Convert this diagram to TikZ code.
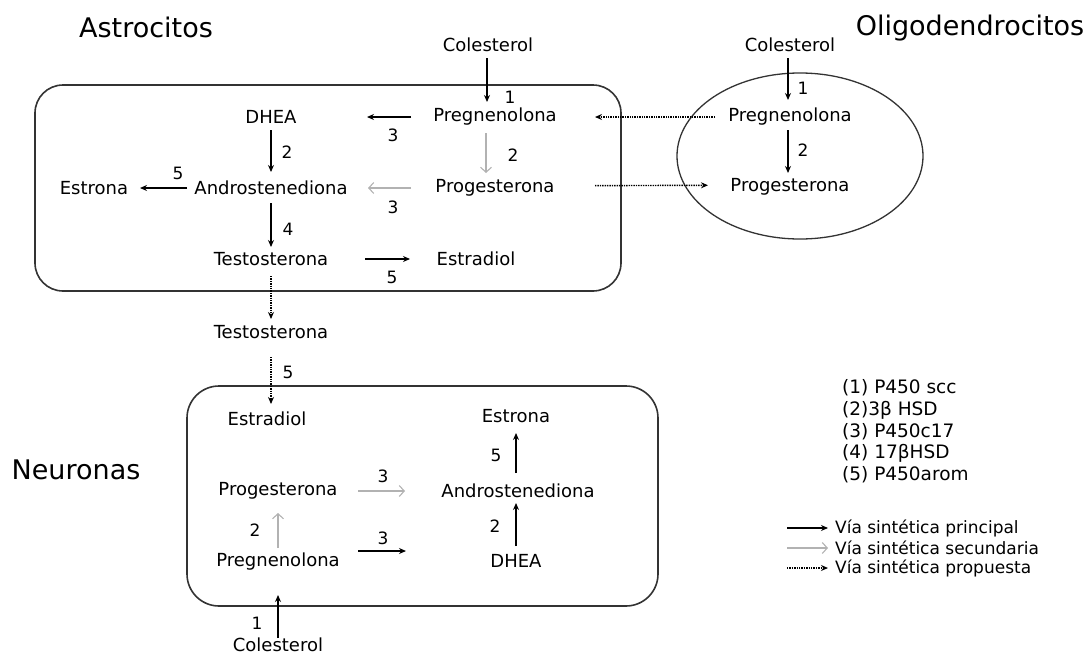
\documentclass[tikz,border=0pt]{standalone}
\usepackage{fontspec}
\setmainfont{DejaVu Sans}
\usetikzlibrary{arrows.meta}
\begin{document}
\begin{tikzpicture}[x=1pt,y=-1pt,
  txt/.style={inner sep=0pt, font=\fontsize{18}{20}\selectfont},
  num/.style={inner sep=0pt, font=\fontsize{17}{19}\selectfont},
  ttl/.style={inner sep=0pt, font=\fontsize{27}{30}\selectfont},
  leg/.style={inner sep=0pt, anchor=west, font=\fontsize{18.5}{20}\selectfont},
  via/.style={inner sep=0pt, anchor=west, font=\fontsize{17}{18}\selectfont},
  blk/.style={line width=1.6pt, -{Stealth[length=7pt,width=6pt]}},
  gry/.style={line width=1.1pt, draw=black!30, -{Straight Barb[length=5pt,width=11pt]}},
  propo/.style={line width=1.4pt, densely dotted, -{Stealth[length=7pt,width=6pt]}},
  cell/.style={line width=1.6pt, draw=black!80},
]
\useasboundingbox (0,0) rectangle (1088,656);

% containers
\draw[cell, rounded corners=28pt] (35,85) rectangle (621,291);
\draw[cell, rounded corners=32pt] (187,386) rectangle (658,606);
\draw[cell, line width=1.3pt] (800,156) ellipse [x radius=123pt, y radius=83pt];

% titles
\node[ttl] (tA) at (146,27) {Astrocitos};
\node[ttl] (tO) at (970,28) {Oligodendrocitos};
\node[ttl] (tN) at (76,470) {Neuronas};

% astrocitos
\node[txt] (colA) at (488,45) {Colesterol};
\node[txt] (pregA) at (495,117) {Pregnenolona};
\node[txt] (dheaA) at (271,117) {DHEA};
\node[txt] (progA) at (495,188) {Progesterona};
\node[txt] (andA) at (271,188) {Androstenediona};
\node[txt] (estnA) at (94,188) {Estrona};
\node[txt] (testA) at (271,259) {Testosterona};
\node[txt] (estdA) at (476,259) {Estradiol};
\node[txt] (testM) at (271,332) {Testosterona};

% oligodendrocitos
\node[txt] (colO) at (790,45) {Colesterol};
\node[txt] (pregO) at (790,117) {Pregnenolona};
\node[txt] (progO) at (790,187) {Progesterona};

% neuronas
\node[txt] (estdN) at (267,419) {Estradiol};
\node[txt] (estnN) at (516,416) {Estrona};
\node[txt] (progN) at (278,491) {Progesterona};
\node[txt] (andN) at (518,491) {Androstenediona};
\node[txt] (pregN) at (278,562) {Pregnenolona};
\node[txt] (dheaN) at (516,561) {DHEA};
\node[txt] (colN) at (278,645) {Colesterol};

% arrows astrocitos
\draw[blk, shorten <=13pt, shorten >=15pt] ([xshift=-1pt]colA.center) -- ([xshift=-8pt]pregA.center);
\draw[blk, shorten <=84pt, shorten >=96pt] (pregA.center) -- (dheaA.center);
\draw[gry, shorten <=16pt, shorten >=15pt] ([xshift=-9pt]pregA.center) -- ([xshift=-9pt]progA.center);
\draw[blk, shorten <=13pt, shorten >=16pt] (dheaA.center) -- (andA.center);
\draw[gry, shorten <=84pt, shorten >=97pt] (progA.center) -- (andA.center);
\draw[blk, shorten <=84pt, shorten >=46pt] (andA.center) -- (estnA.center);
\draw[blk, shorten <=15pt, shorten >=12pt] (andA.center) -- (testA.center);
\draw[blk, shorten <=94pt, shorten >=66pt] (testA.center) -- (estdA.center);
\draw[propo, shorten <=17pt, shorten >=13pt] (testA.center) -- (testM.center);
\draw[propo, shorten <=25pt, shorten >=15pt] (testM.center) -- ([xshift=4pt]estdN.center);

% arrows oligodendrocitos
\draw[blk, shorten <=13pt, shorten >=17pt] ([xshift=-2pt]colO.center) -- ([xshift=-2pt]pregO.center);
\draw[blk, shorten <=13pt, shorten >=14pt] ([xshift=-2pt]pregO.center) -- ([xshift=-2pt]progO.center);
\draw[propo, shorten <=75pt, shorten >=100pt] (pregO.center) -- (pregA.center);
\draw[propo, shorten <=100pt, shorten >=82pt] ([yshift=2pt]progA.center) -- ([yshift=2pt]progO.center);

% arrows neuronas
\draw[blk, shorten <=7pt, shorten >=33pt] (colN.center) -- (pregN.center);
\draw[gry, shorten <=14pt, shorten >=22pt] (pregN.center) -- (progN.center);
\draw[gry, shorten <=80pt, shorten >=113pt] (progN.center) -- (andN.center);
\draw[blk, shorten <=80pt, shorten >=110pt] ([yshift=11pt]pregN.center) -- ([yshift=10pt]dheaN.center);
\draw[blk, shorten <=15pt, shorten >=12pt] (dheaN.center) -- ([xshift=-2pt]andN.center);
\draw[blk, shorten <=18pt, shorten >=17pt] ([xshift=-2pt]andN.center) -- (estnN.center);

% enzyme labels
\node[num] (a1) at (510,97) {1};
\node[num] (a3) at (393,135) {3};
\node[num] (a2) at (513,155) {2};
\node[num] (b2) at (287,152) {2};
\node[num] (b3) at (393,207) {3};
\node[num] (b5) at (178,173) {5};
\node[num] (b4) at (288,229) {4};
\node[num] (c5) at (392,277) {5};
\node[num] (d5) at (288,372) {5};
\node[num] (o1) at (803,88) {1};
\node[num] (o2) at (803,150) {2};
\node[num] (n1) at (257,623) {1};
\node[num] (n2) at (255,530) {2};
\node[num] (n3) at (383,476) {3};
\node[num] (m3) at (383,538) {3};
\node[num] (m2) at (495,526) {2};
\node[num] (n5) at (496,455) {5};

% legend
\node[leg] (e1) at (842,388) {(1) P450 scc};
\node[leg] (e2) at (842,410) {(2)3β HSD};
\node[leg] (e3) at (842,432) {(3) P450c17};
\node[leg] (e4) at (842,453) {(4) 17βHSD};
\node[leg] (e5) at (842,475) {(5) P450arom};
\node[via] (v1) at (835,528) {Vía sintética principal};
\node[via] (v2) at (835,548) {Vía sintética secundaria};
\node[via] (v3) at (835,568) {Vía sintética propuesta};
\coordinate (k1) at (787,528);
\coordinate (k2) at (787,548);
\coordinate (k3) at (787,568);
\draw[blk, line width=1.4pt, shorten >=7pt] (k1) -- (v1.west);
\draw[gry, shorten >=7pt] (k2) -- (v2.west);
\draw[propo, shorten >=7pt] (k3) -- (v3.west);
\end{tikzpicture}
\end{document}
